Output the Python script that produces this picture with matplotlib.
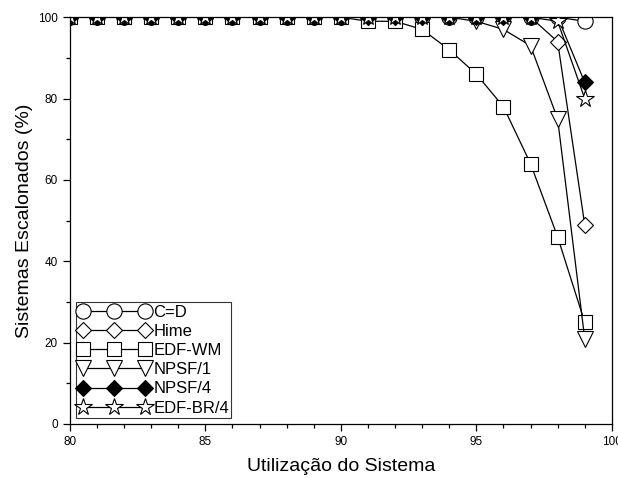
import numpy as np
import matplotlib
matplotlib.use("Agg")
import matplotlib.pyplot as plt
from matplotlib.ticker import MultipleLocator

plt.rcParams['font.family'] = ['Liberation Sans', 'DejaVu Sans']

# Data
utilizacao = list(range(80, 100))
c_d =     [100]*19 + [99]
hime =    [100]*18 + [94, 49]
edf_wm =  [100]*11 + [99, 99, 97, 92, 86, 78, 64, 46, 25]
npsf1 =   [100]*15 + [99, 97, 93, 75, 21]
npsf4 =   [100]*19 + [84]
edf_br4 = [100]*18 + [99, 80]

series = [
    ("C=D", c_d, 'o', 'white', 11),
    ("Hime", hime, 'D', 'white', 8),
    ("EDF-WM", edf_wm, 's', 'white', 10),
    ("NPSF/1", npsf1, 'v', 'white', 11),
    ("NPSF/4", npsf4, 'D', 'black', 8),
    ("EDF-BR/4", edf_br4, '*', 'white', 13),
]

fig = plt.figure(figsize=(6.18, 4.78), dpi=100)
ax = fig.add_axes([0.113, 0.113, 0.877, 0.851])

for name, vals, mk, fc, ms in series:
    ax.plot(utilizacao, vals, color='black', lw=0.9, marker=mk, markersize=ms,
            markerfacecolor=fc, markeredgecolor='black', markeredgewidth=0.8,
            label=name)

ax.set_xlim(80, 100)
ax.set_ylim(0, 100)
ax.xaxis.set_major_locator(MultipleLocator(5))
ax.xaxis.set_minor_locator(MultipleLocator(1))
ax.yaxis.set_major_locator(MultipleLocator(20))
ax.yaxis.set_minor_locator(MultipleLocator(10))
ax.tick_params(which='both', direction='out', top=False, right=False,
               labelsize=8.5, width=0.9)
ax.tick_params(which='major', length=5)
ax.tick_params(which='minor', length=3)
for s in ax.spines.values():
    s.set_linewidth(0.9)

ax.set_xlabel("Utilização do Sistema", fontsize=14, labelpad=7)
ax.set_ylabel("Sistemas Escalonados (%)", fontsize=14, labelpad=4)

leg = ax.legend(loc='lower left', numpoints=3, handlelength=4.3,
                fontsize=12, frameon=True, fancybox=False, edgecolor='black',
                borderpad=0.15, labelspacing=0.25, handletextpad=0.2,
                borderaxespad=0.35)
leg.get_frame().set_linewidth(0.8)

fig.savefig("out.png", dpi=100)
